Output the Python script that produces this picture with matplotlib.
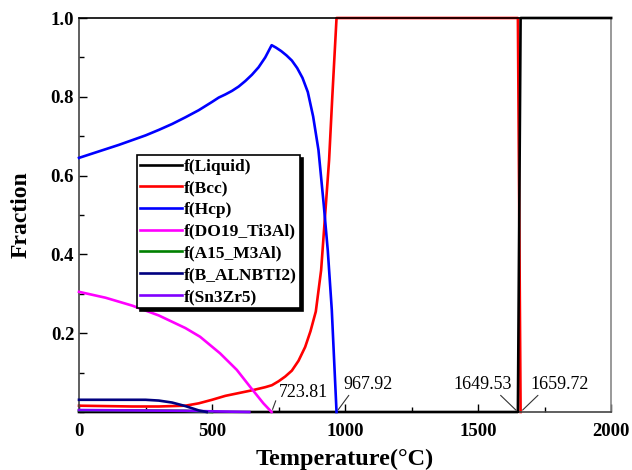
# coding: utf-8
# Phase fraction vs temperature (equilibrium calculation)

import matplotlib
matplotlib.use("Agg")
import matplotlib.pyplot as plt
from matplotlib.ticker import MultipleLocator

plt.rcParams['font.family'] = ['Liberation Serif', 'DejaVu Serif']
plt.rcParams['font.weight'] = 'bold'

# data
t_liquid = [0, 1649.53, 1659.72, 2000]
f_liquid = [0, 0, 1, 1]

t_bcc = [0, 100, 200, 300, 400, 450, 500, 550, 600, 650, 700, 725, 750, 775,
         800, 825, 850, 870, 890, 910, 925, 940, 952, 967.92, 1649.53, 1659.72]
f_bcc = [0.016, 0.015, 0.014, 0.014, 0.016, 0.022, 0.031, 0.041, 0.048, 0.055,
         0.063, 0.068, 0.078, 0.090, 0.105, 0.130, 0.165, 0.205, 0.255, 0.360,
         0.500, 0.640, 0.800, 1.0, 1.0, 0]

t_hcp = [0, 50, 100, 150, 200, 250, 300, 350, 400, 450, 500, 525, 550, 575,
         600, 625, 650, 675, 700, 724, 740, 760, 780, 800, 820, 840, 860, 880,
         900, 920, 935, 950, 967.92]
f_hcp = [0.645, 0.656, 0.667, 0.678, 0.690, 0.702, 0.716, 0.731, 0.748, 0.766,
         0.787, 0.798, 0.806, 0.815, 0.826, 0.840, 0.856, 0.875, 0.900, 0.931,
         0.925, 0.916, 0.905, 0.892, 0.873, 0.848, 0.812, 0.750, 0.665, 0.525,
         0.410, 0.260, 0]

t_do19 = [0, 100, 200, 300, 400, 455, 530, 593, 643, 693, 723.81]
f_do19 = [0.305, 0.290, 0.270, 0.245, 0.213, 0.191, 0.149, 0.107, 0.064, 0.022, 0]

t_a15 = [0, 200, 400, 500]
f_a15 = [0.004, 0.004, 0.003, 0]

t_b2 = [0, 100, 200, 250, 300, 350, 400, 450, 480]
f_b2 = [0.031, 0.031, 0.031, 0.031, 0.029, 0.024, 0.015, 0.004, 0]

t_sn = [0, 200, 400, 640]
f_sn = [0.005, 0.004, 0.003, 0]

labels = ['f(Liquid)', 'f(Bcc)', 'f(Hcp)', 'f(DO19_Ti3Al)', 'f(A15_M3Al)',
          'f(B_ALNBTI2)', 'f(Sn3Zr5)']
colors = ['#000000', '#ff0000', '#0000ff', '#ff00ff', '#008000', '#000080', '#8000ff']

mark_t = [723.81, 967.92, 1649.53, 1659.72]
mark_txt = ['723.81', '967.92', '1649.53', '1659.72']

fig = plt.figure(figsize=(6.32, 4.70), dpi=100)
ax = fig.add_axes([0.125, 0.1234, 0.842, 0.8383])

series = [(t_liquid, f_liquid), (t_bcc, f_bcc), (t_hcp, f_hcp), (t_do19, f_do19),
          (t_a15, f_a15), (t_b2, f_b2), (t_sn, f_sn)]
zs = [3, 2, 4, 5, 3, 6, 5]
for (t, f), lab, c, z in zip(series, labels, colors, zs):
    ax.plot(t, f, color=c, lw=1.9, label=lab, zorder=z, clip_on=False)

ax.set_xlim(0, 2000)
ax.set_ylim(0, 1.0)
ax.xaxis.set_major_locator(MultipleLocator(500))
ax.xaxis.set_minor_locator(MultipleLocator(250))
ax.set_yticks([0.2, 0.4, 0.6, 0.8, 1.0])
ax.yaxis.set_minor_locator(MultipleLocator(0.1))
ax.tick_params(which='both', direction='in', top=False, right=False,
               labelsize=13.5, width=1)
ax.tick_params(which='major', length=6)
ax.tick_params(which='minor', length=3.5)
ax.tick_params(axis='x', pad=8)
for lab in ax.get_xticklabels() + ax.get_yticklabels():
    lab.set_fontweight('bold')

ax.spines['left'].set_color('#444444')
ax.spines['bottom'].set_color('#444444')
ax.spines['right'].set_color('#888888')
ax.spines['top'].set_color('#000000')
for s in ax.spines.values():
    s.set_linewidth(1.2)

ax.set_xlabel('Temperature(\u00b0C)', fontsize=17.5, fontweight='bold', labelpad=6)
ax.set_ylabel('Fraction', fontsize=17, fontweight='bold', labelpad=14)

# temperature markers
offs = [(5, 8), (5, 14), (-4, 14), (7, 14)]
has = ['left', 'left', 'right', 'left']
rel = [(0.0, 0.45), (0.15, 0.0), (0.75, 0.0), (0.18, 0.0)]
for t, s, o, h, r in zip(mark_t, mark_txt, offs, has, rel):
    ax.annotate(s, xy=(t, 0), xytext=o, textcoords='offset points', ha=h,
                va='bottom', fontsize=13, fontweight='normal',
                arrowprops=dict(arrowstyle='-', color='#333333', lw=0.8,
                                relpos=r, shrinkA=0, shrinkB=2))

leg = ax.legend(loc='upper left', bbox_to_anchor=(0.109, 0.652), fontsize=12.5,
                handlelength=2.4, handletextpad=0.1, labelspacing=0.32,
                borderpad=0.2, borderaxespad=0, fancybox=False, frameon=True,
                shadow={'color': 'black', 'alpha': 1.0})
leg.get_frame().set_edgecolor('black')
leg.get_frame().set_linewidth(1.2)
for txt in leg.get_texts():
    txt.set_fontweight('bold')

fig.savefig('out.png', dpi=100)
